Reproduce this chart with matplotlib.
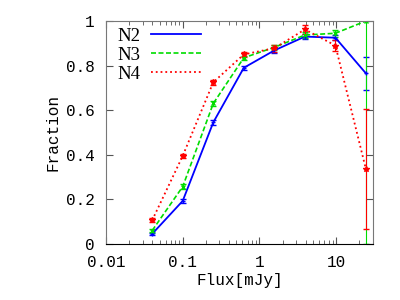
import numpy as np
import matplotlib
matplotlib.use('Agg')
import matplotlib.pyplot as plt
from matplotlib.lines import Line2D
from matplotlib.ticker import LogLocator, NullFormatter, FixedLocator

# flux bins (mJy)
flux = [0.04, 0.1, 0.25, 0.625, 1.5625, 3.906, 9.766, 24.41]

# fractions for each sample
n2 = [0.045, 0.193, 0.545, 0.79, 0.868, 0.93, 0.925, 0.765]
n3 = [0.06, 0.257, 0.63, 0.835, 0.882, 0.937, 0.945, 1.0]
n4 = [0.106, 0.395, 0.725, 0.85, 0.878, 0.962, 0.89, 0.335]

# error bars (lower, upper)
n2_lo = [0.005, 0.008, 0.01, 0.01, 0.01, 0.01, 0.012, 0.075]
n2_hi = [0.005, 0.008, 0.01, 0.01, 0.01, 0.01, 0.012, 0.075]
n3_lo = [0.006, 0.01, 0.01, 0.01, 0.012, 0.012, 0.015, 1.0]
n3_hi = [0.006, 0.01, 0.01, 0.01, 0.012, 0.012, 0.015, 0.0]
n4_lo = [0.008, 0.01, 0.012, 0.012, 0.015, 0.02, 0.025, 0.27]
n4_hi = [0.008, 0.01, 0.012, 0.012, 0.015, 0.02, 0.025, 0.27]

mono = 'Liberation Mono'
serif = 'Liberation Serif'

blue = '#0000ff'
green = '#00dd00'
red = '#ff0000'

fig = plt.figure(figsize=(4, 3), dpi=100)
ax = fig.add_axes([0.265, 0.187, 0.667, 0.743])

ax.errorbar(flux, n2, yerr=[n2_lo, n2_hi], color=blue, ls='-', lw=1.3,
            marker='+', ms=3, capsize=2, elinewidth=0.8)
ax.errorbar(flux, n3, yerr=[n3_lo, n3_hi], color=green, ls='--', lw=1.2,
            marker='x', ms=3, capsize=2, elinewidth=0.8, dashes=(3, 1.5))
ax.errorbar(flux, n4, yerr=[n4_lo, n4_hi], color=red, ls=':', lw=1.3,
            marker='*', ms=4, capsize=2, elinewidth=0.8)

ax.set_xscale('log')
ax.set_xlim(0.01, 30)
ax.set_ylim(0, 1)

ax.xaxis.set_major_locator(FixedLocator([0.01, 0.1, 1, 10]))
ax.set_xticklabels(['0.01', '0.1', '1', '10'])
ax.xaxis.set_minor_locator(LogLocator(base=10, subs=np.arange(2, 10)))
ax.xaxis.set_minor_formatter(NullFormatter())
ax.set_yticks([0, 0.2, 0.4, 0.6, 0.8, 1.0])
ax.set_yticklabels(['0', '0.2', '0.4', '0.6', '0.8', '1'])

ax.tick_params(which='both', direction='in', top=True, right=True,
               labelsize=11.5, pad=8, color='#555555')
ax.tick_params(which='major', length=5)
ax.tick_params(which='minor', length=3)
for lab in ax.get_xticklabels() + ax.get_yticklabels():
    lab.set_family(mono)
for s in ax.spines.values():
    s.set_color('#777777')
ax.spines['bottom'].set_color('black')

ax.set_xlabel('Flux[mJy]', family=mono, fontsize=11.5, labelpad=2)
ax.set_ylabel('Fraction', family=mono, fontsize=11.5, labelpad=4)

handles = [Line2D([], [], color=blue, ls='-', lw=1.3),
           Line2D([], [], color=green, ls='--', lw=1.2, dashes=(3, 1.5)),
           Line2D([], [], color=red, ls=':', lw=1.3)]
ax.legend(handles, ['N2', 'N3', 'N4'], loc='upper left', frameon=False,
          prop={'family': serif, 'size': 13.5}, handlelength=2.7,
          handletextpad=0.55, labelspacing=0.1, borderaxespad=0.0,
          bbox_to_anchor=(0.015, 1.005), markerfirst=False)

fig.savefig('out.png', dpi=100)
